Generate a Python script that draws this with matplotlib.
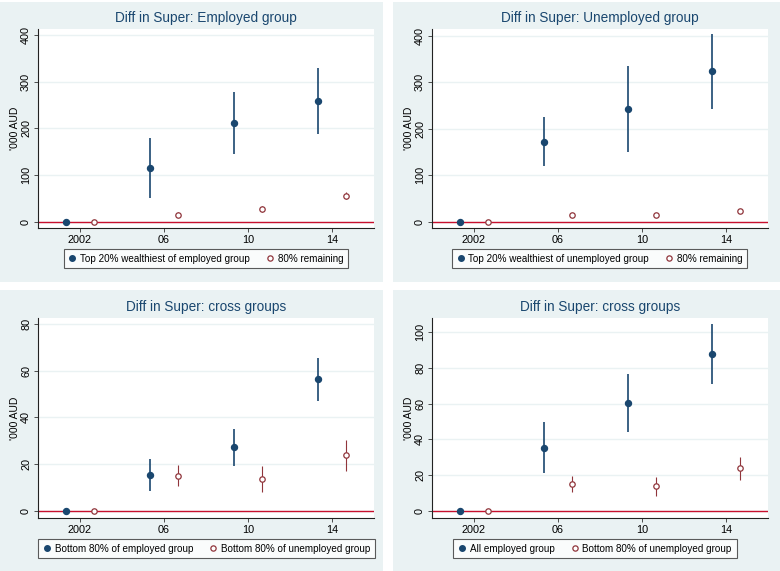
import numpy as np
import matplotlib
matplotlib.use("Agg")
import matplotlib.pyplot as plt
from matplotlib.lines import Line2D
from matplotlib.patches import Rectangle

plt.rcParams['font.family'] = ['Liberation Sans', 'DejaVu Sans']

years = [2002, 2006, 2010, 2014]
xtick_labels = ['2002', '06', '10', '14']

# panel 1: employed group
emp_top = [0, 115, 211, 259]
emp_top_lo = [0, 50, 145, 188]
emp_top_hi = [0, 180, 278, 329]
emp_rest = [0, 15, 27, 56]
emp_rest_lo = [0, 11, 21, 48]
emp_rest_hi = [0, 20, 33, 64]

# panel 2: unemployed group
unemp_top = [0, 172, 243, 323]
unemp_top_lo = [0, 120, 150, 243]
unemp_top_hi = [0, 225, 335, 403]
unemp_rest = [0, 15, 14, 24]
unemp_rest_lo = [0, 13, 12, 21]
unemp_rest_hi = [0, 17, 16, 27]

# panel 3/4: cross groups
emp_bottom = [0, 15.5, 27.2, 56.3]
emp_bottom_lo = [0, 8.5, 19.3, 47.0]
emp_bottom_hi = [0, 22.3, 35.1, 65.6]
unemp_bottom = [0, 15.1, 13.7, 23.8]
unemp_bottom_lo = [0, 10.7, 8.2, 17.2]
unemp_bottom_hi = [0, 19.6, 19.1, 30.3]
emp_all = [0, 35.3, 60.2, 87.8]
emp_all_lo = [0, 21.0, 44.0, 71.0]
emp_all_hi = [0, 49.5, 76.5, 104.8]

NAVY = '#1a476f'
MAROON = '#90353b'
BG = '#eaf2f3'
ZERO = '#c8102e'

W, H = 780, 571
fig = plt.figure(figsize=(W / 100, H / 100), dpi=100)
fig.patch.set_facecolor('white')


def px_rect(l, t, r, b):
    return [l / W, 1 - b / H, (r - l) / W, (b - t) / H]


def panel(bg_box, ax_box, leg_box, title_y, title, yticks, ylim,
          s1, s2, lab1, lab2):
    l, t, r, b = bg_box
    fig.patches.append(Rectangle((l / W, 1 - b / H), (r - l) / W, (b - t) / H,
                                 transform=fig.transFigure, facecolor=BG,
                                 edgecolor='none', zorder=-10))
    ax = fig.add_axes(px_rect(*ax_box))
    ax.set_facecolor('white')
    y1, lo1, hi1 = s1
    y2, lo2, hi2 = s2
    x1 = np.array(years) - 0.65
    x2 = np.array(years) + 0.65
    ax.vlines(x1, lo1, hi1, color=NAVY, lw=1.2, zorder=3)
    ax.vlines(x2, lo2, hi2, color=MAROON, lw=0.8, zorder=3)
    ax.plot(x1, y1, 'o', color=NAVY, ms=4.3, ls='none', zorder=4)
    ax.plot(x2, y2, 'o', mfc='white', mec=MAROON, mew=0.9, ms=3.9,
            ls='none', zorder=4)
    ax.axhline(0, color=ZERO, lw=1.0, zorder=2)
    ax.set_xlim(2000, 2016)
    ax.set_ylim(*ylim)
    ax.set_xticks(years)
    ax.set_xticklabels(xtick_labels)
    ax.set_yticks(yticks)
    ax.set_yticklabels([str(v) for v in yticks], rotation=90, va='center')
    for v in yticks:
        ax.axhline(v, color=BG, lw=1.0, zorder=1)
    ax.tick_params(labelsize=7.8, length=3, width=0.6, color='#333333',
                   labelcolor='black', pad=2)
    for s in ['top', 'right']:
        ax.spines[s].set_visible(False)
    for s in ['left', 'bottom']:
        ax.spines[s].set_linewidth(0.8)
        ax.spines[s].set_color('#222222')
    ax.set_ylabel("'000 AUD", fontsize=7.5, labelpad=1)
    fig.text((ax_box[0] + ax_box[2]) / 2 / W, 1 - title_y / H, title,
             ha='center', va='center', fontsize=9.8, color=NAVY)
    handles = [
        Line2D([], [], marker='o', color=NAVY, ms=4.0, ls='none'),
        Line2D([], [], marker='o', mfc='white', mec=MAROON, mew=0.9, ms=3.8,
               ls='none'),
    ]
    ll, lt, lr, lb = leg_box
    leg = fig.legend(handles, [lab1, lab2], ncol=2, loc='center',
                     bbox_to_anchor=((ll + lr) / 2 / W, 1 - (lt + lb) / 2 / H),
                     fontsize=7.1, frameon=True, fancybox=False,
                     edgecolor='#333333', handlelength=0.8, handletextpad=0.4,
                     columnspacing=1.6, borderpad=0.5)
    leg.get_frame().set_linewidth(0.8)
    return ax


panel((0, 2, 383, 282), (38, 29, 374, 228), (65, 249, 347, 268), 18,
      'Diff in Super: Employed group', [0, 100, 200, 300, 400], (-13.5, 413),
      (emp_top, emp_top_lo, emp_top_hi), (emp_rest, emp_rest_lo, emp_rest_hi),
      'Top 20% wealthiest of employed group', '80% remaining')

panel((393, 2, 780, 282), (432, 29, 768, 228), (453, 249, 746, 268), 18,
      'Diff in Super: Unemployed group', [0, 100, 200, 300, 400], (-13.5, 414),
      (unemp_top, unemp_top_lo, unemp_top_hi),
      (unemp_rest, unemp_rest_lo, unemp_rest_hi),
      'Top 20% wealthiest of unemployed group', '80% remaining')

panel((0, 290, 383, 571), (38, 318, 374, 518), (42, 539, 371, 558), 307,
      'Diff in Super: cross groups', [0, 20, 40, 60, 80], (-3.1, 82.6),
      (emp_bottom, emp_bottom_lo, emp_bottom_hi),
      (unemp_bottom, unemp_bottom_lo, unemp_bottom_hi),
      'Bottom 80% of employed group', 'Bottom 80% of unemployed group')

panel((393, 290, 780, 571), (432, 318, 768, 518), (459, 539, 731, 558), 307,
      'Diff in Super: cross groups', [0, 20, 40, 60, 80, 100], (-4.1, 108),
      (emp_all, emp_all_lo, emp_all_hi),
      (unemp_bottom, unemp_bottom_lo, unemp_bottom_hi),
      'All employed group', 'Bottom 80% of unemployed group')

fig.savefig('out.png', dpi=100, facecolor='white')
